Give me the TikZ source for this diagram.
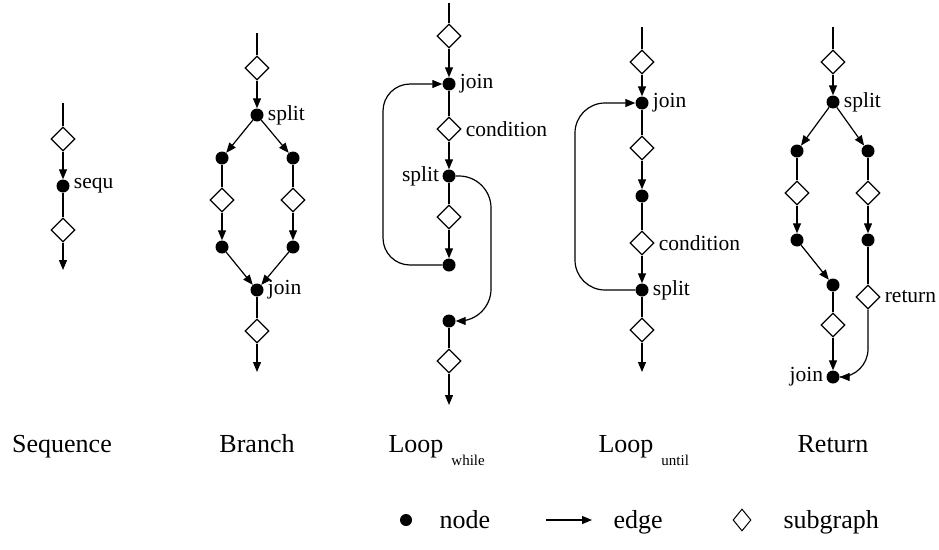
\documentclass[tikz,border=0pt]{standalone}
\usepackage{fontspec}
\setmainfont{Liberation Serif}
\usetikzlibrary{shapes.geometric,arrows.meta}
\begin{document}
\begin{tikzpicture}[x=1pt,y=-1pt,
  dot/.style={circle,fill=black,inner sep=0pt,minimum size=13pt},
  sub/.style={diamond,draw=black,fill=white,line width=1.2pt,inner sep=0pt,minimum size=24pt},
  ln/.style={line width=1.2pt},
  arr/.style={line width=1.2pt,-{Triangle[length=10pt,width=8pt]}},
  small/.style={font=\fontsize{21.5}{21.5}\selectfont,inner sep=1pt},
  big/.style={font=\fontsize{26}{26}\selectfont,anchor=base},
  lbl/.style={label={[small,label distance=3pt]right:#1}},
  lbll/.style={label={[small,label distance=2pt]left:#1}}
]
\useasboundingbox (0,0) rectangle (939,549);
% ---------- Sequence ----------
\coordinate (a0) at (63,103);
\node[sub] (a1) at (63,139) {};
\node[dot,lbl=sequ] (a2) at (63,186) {};
\node[sub] (a3) at (63,230) {};
\coordinate (a4) at (63,270);
\draw[ln] (a0) -- (a1);
\draw[arr] (a1) -- (a2);
\draw[ln] (a2) -- (a3);
\draw[arr] (a3) -- (a4);
% ---------- Branch ----------
\coordinate (b0) at (257,33);
\node[sub] (b1) at (257,68) {};
\node[dot,lbl=split] (b2) at (257,115) {};
\node[dot] (bl1) at (222,158) {};
\node[dot] (br1) at (293,158) {};
\node[sub] (bl2) at (222,200) {};
\node[sub] (br2) at (293,200) {};
\node[dot] (bl3) at (222,247) {};
\node[dot] (br3) at (293,247) {};
\node[dot,lbl=join] (b3) at (257,290) {};
\node[sub] (b4) at (257,331) {};
\coordinate (b5) at (257,372);
\draw[ln] (b0) -- (b1);
\draw[arr] (b1) -- (b2);
\draw[arr] (b2) -- (bl1);
\draw[arr] (b2) -- (br1);
\draw[ln] (bl1) -- (bl2);
\draw[ln] (br1) -- (br2);
\draw[arr] (bl2) -- (bl3);
\draw[arr] (br2) -- (br3);
\draw[arr] (bl3) -- (b3);
\draw[arr] (br3) -- (b3);
\draw[ln] (b3) -- (b4);
\draw[arr] (b4) -- (b5);
% ---------- Loop while ----------
\coordinate (w0) at (449,3);
\node[sub] (w1) at (449,36) {};
\node[dot,lbl=join] (w2) at (449,84) {};
\node[sub,lbl=condition] (w3) at (449,129) {};
\node[dot,lbll=split] (w4) at (449,176) {};
\node[sub] (w5) at (449,217) {};
\node[dot] (w6) at (449,265) {};
\node[dot] (w7) at (449,321) {};
\node[sub] (w8) at (449,361) {};
\coordinate (w9) at (449,405);
\coordinate (wl) at (383,0);
\coordinate (wr) at (491,0);
\draw[ln] (w0) -- (w1);
\draw[arr] (w1) -- (w2);
\draw[ln] (w2) -- (w3);
\draw[arr] (w3) -- (w4);
\draw[ln] (w4) -- (w5);
\draw[arr] (w5) -- (w6);
\draw[arr,rounded corners=27pt] (w6.west) -- (w6.west -| wl) -- (w2.west -| wl) -- (w2.west);
\draw[arr,rounded corners=32pt] (w4.east) -- (w4.east -| wr) -- (w7.east -| wr) -- (w7.east);
\draw[ln] (w7) -- (w8);
\draw[arr] (w8) -- (w9);
% ---------- Loop until ----------
\coordinate (u0) at (642,27);
\node[sub] (u1) at (642,62) {};
\node[dot,lbl=join] (u2) at (642,103) {};
\node[sub] (u3) at (642,148) {};
\node[dot] (u4) at (642,196) {};
\node[sub,lbl=condition] (u5) at (642,243) {};
\node[dot,lbl=split] (u6) at (642,290) {};
\node[sub] (u7) at (642,330) {};
\coordinate (u8) at (642,372);
\coordinate (ul) at (575,0);
\draw[ln] (u0) -- (u1);
\draw[arr] (u1) -- (u2);
\draw[ln] (u2) -- (u3);
\draw[arr] (u3) -- (u4);
\draw[ln] (u4) -- (u5);
\draw[arr] (u5) -- (u6);
\draw[arr,rounded corners=30pt] (u6.west) -- (u6.west -| ul) -- (u2.west -| ul) -- (u2.west);
\draw[ln] (u6) -- (u7);
\draw[arr] (u7) -- (u8);
% ---------- Return ----------
\coordinate (r0) at (833,27);
\node[sub] (r1) at (833,62) {};
\node[dot,lbl=split] (r2) at (833,102) {};
\node[dot] (rl1) at (797,151) {};
\node[dot] (rr1) at (868,151) {};
\node[sub] (rl2) at (797,193) {};
\node[sub] (rr2) at (868,193) {};
\node[dot] (rl3) at (797,240) {};
\node[dot] (rr3) at (868,240) {};
\node[dot] (rc) at (833,285) {};
\node[sub] (rd) at (833,325) {};
\node[dot,lbll=join] (rj) at (833,377) {};
\node[sub,lbl=return] (rret) at (868,297) {};
\draw[ln] (r0) -- (r1);
\draw[arr] (r1) -- (r2);
\draw[arr] (r2) -- (rl1);
\draw[arr] (r2) -- (rr1);
\draw[ln] (rl1) -- (rl2);
\draw[ln] (rr1) -- (rr2);
\draw[arr] (rl2) -- (rl3);
\draw[arr] (rr2) -- (rr3);
\draw[arr] (rl3) -- (rc);
\draw[ln] (rc) -- (rd);
\draw[arr] (rd) -- (rj);
\draw[ln] (rr3) -- (rret);
\draw[arr,rounded corners=28pt] (rret.south) |- (rj.east);
% ---------- Titles ----------
\node[big] (tseq) at (62,452) {Sequence};
\node[big] (tbr) at (257,452) {Branch};
\node[big,anchor=base west] (tlw) at (385,452) {Loop\hspace{8pt}\raisebox{-13pt}{\fontsize{15}{15}\selectfont while}};
\node[big,anchor=base west] (tlu) at (595,452) {Loop\hspace{8pt}\raisebox{-13pt}{\fontsize{15}{15}\selectfont until}};
\node[big] (tret) at (833,452) {Return};
% ---------- Legend ----------
\node[circle,fill=black,inner sep=0pt,minimum width=10pt,minimum height=12pt] (lg1) at (406,520) {};
\node[big,anchor=base west] (lg1t) at (436,528) {node};
\coordinate (lg2a) at (546,520);
\coordinate (lg2b) at (592,520);
\draw[arr] (lg2a) -- (lg2b);
\node[big,anchor=base west] (lg2t) at (610,528) {edge};
\node[diamond,draw=black,line width=1pt,inner sep=0pt,minimum width=18pt,minimum height=22pt] (lg3) at (742,520) {};
\node[big,anchor=base west] (lg3t) at (780,528) {subgraph};
\end{tikzpicture}
\end{document}
